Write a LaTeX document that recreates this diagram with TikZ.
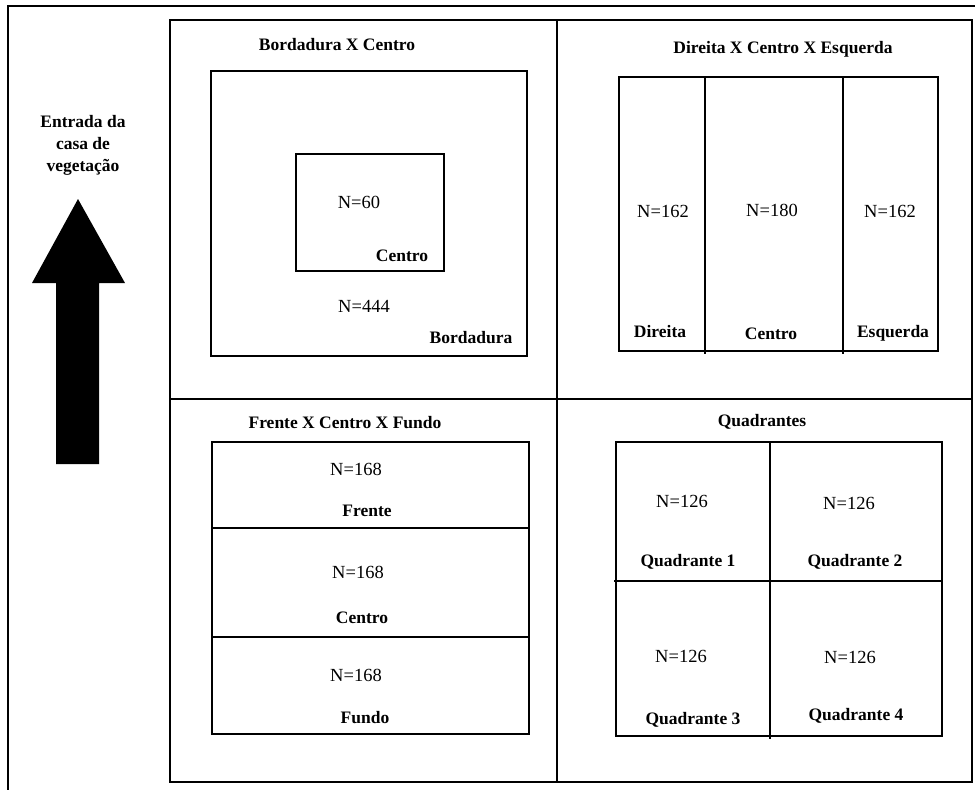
\documentclass[tikz,border=0pt]{standalone}
\usepackage{fontspec}
\setmainfont{Liberation Serif}
\begin{document}
\begin{tikzpicture}[x=1pt,y=-1pt, line width=1.6pt,
  lbl/.style={font=\fontsize{17.5}{22}\selectfont\bfseries, inner sep=0pt},
  num/.style={font=\fontsize{18.5}{22}\selectfont, inner sep=0pt}]
\useasboundingbox (0,0) rectangle (975,790);
% outer frame (right and bottom sides lie at the image edge)
\draw (975,6) -- (8,6) -- (8,790);
% grid of four panels
\draw (170,20) rectangle (972,782);
\draw (557,20) -- (557,782);
\draw (170,399) -- (972,399);

% arrow
\fill (56,464) -- (56,283) -- (32,283) -- (78,199) -- (125,283) -- (99,283) -- (99,464) -- cycle;
\node[lbl, align=center] (entrada) at (83,145) {Entrada da\\casa de\\vegetação};

% panel 1: Bordadura X Centro
\node[lbl] (t1) at (337,45) {Bordadura X Centro};
\draw (211,71) rectangle (527,356);
\draw (296,154) rectangle (444,271);
\node[num] (n60) at (359,202) {N=60};
\node[lbl] (centro1) at (402,256) {Centro};
\node[num] (n444) at (364,306) {N=444};
\node[lbl] (bord) at (471,338) {Bordadura};

% panel 2: Direita X Centro X Esquerda
\node[lbl] (t2) at (783,49) {Direita X Centro X Esquerda};
\draw (619,77) rectangle (938,351);
\draw (705,77) -- (705,354);
\draw (843,77) -- (843,354);
\node[num] (n162a) at (663,211) {N=162};
\node[num] (n180) at (772,210) {N=180};
\node[num] (n162b) at (890,211) {N=162};
\node[lbl] (dir) at (660,332) {Direita};
\node[lbl] (centro2) at (771,334) {Centro};
\node[lbl] (esq) at (893,333) {Esquerda};

% panel 3: Frente X Centro X Fundo
\node[lbl] (t3) at (345,423) {Frente X Centro X Fundo};
\draw (212,442) rectangle (529,734);
\draw (212,528) -- (529,528);
\draw (212,637) -- (529,637);
\node[num] (n168a) at (356,469) {N=168};
\node[lbl] (frente) at (367,511) {Frente};
\node[num] (n168b) at (358,572) {N=168};
\node[lbl] (centro3) at (362,618) {Centro};
\node[num] (n168c) at (356,675) {N=168};
\node[lbl] (fundo) at (365,718) {Fundo};

% panel 4: Quadrantes
\node[lbl] (t4) at (762,422) {Quadrantes};
\draw (616,442) rectangle (942,736);
\draw (770,442) -- (770,739);
\draw (614,581) -- (942,581);
\node[num] (q1n) at (682,501) {N=126};
\node[lbl] (q1) at (688,562) {Quadrante 1};
\node[num] (q2n) at (849,503) {N=126};
\node[lbl] (q2) at (855,562) {Quadrante 2};
\node[num] (q3n) at (681,656) {N=126};
\node[lbl] (q3) at (693,720) {Quadrante 3};
\node[num] (q4n) at (850,657) {N=126};
\node[lbl] (q4) at (856,716) {Quadrante 4};
\end{tikzpicture}
\end{document}
